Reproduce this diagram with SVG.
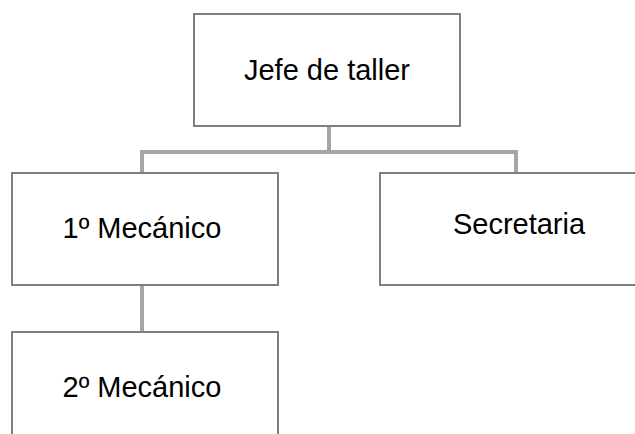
<svg xmlns="http://www.w3.org/2000/svg" width="635" height="434" viewBox="0 0 635 434">
<style>
.box{fill:#fff;stroke:#7f7f7f;stroke-width:2}
.lbl{font-family:"Liberation Sans",Arial,sans-serif;font-size:29px;fill:#000;text-anchor:middle}
.con{fill:none;stroke:#a5a5a5;stroke-width:4}
</style>
<rect width="635" height="434" fill="#fff"/>
<g id="connectors">
<path class="con" d="M329,126 V152 M142,173 V152 H516 V173"/>
<path class="con" d="M142,285 V332"/>
</g>
<g id="jefe"><rect class="box" x="194" y="14" width="266" height="112"/><text class="lbl" x="327" y="80">Jefe de taller</text></g>
<g id="mecanico1"><rect class="box" x="12" y="173" width="266" height="112"/><text class="lbl" x="142" y="238">1º Mecánico</text></g>
<g id="secretaria"><rect class="box" x="380" y="173" width="266" height="112"/><text class="lbl" x="519" y="234">Secretaria</text></g>
<g id="mecanico2"><rect class="box" x="12" y="332" width="266" height="112"/><text class="lbl" x="142" y="397">2º Mecánico</text></g>
</svg>
